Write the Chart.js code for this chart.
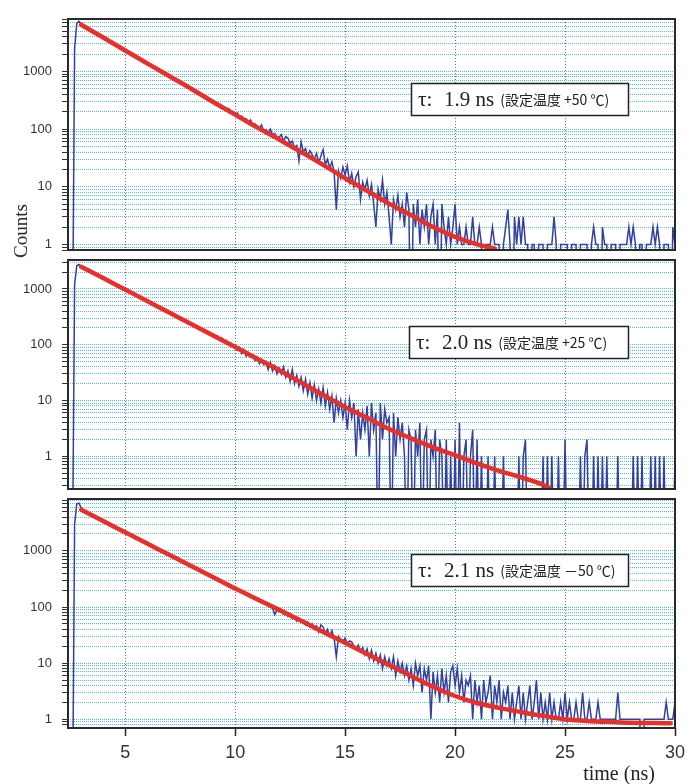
<!DOCTYPE html>
<html><head><meta charset="utf-8">
<script src="https://cdn.jsdelivr.net/npm/chart.js@4.4.1/dist/chart.umd.min.js"></script>
<style>
html,body{margin:0;padding:0;background:#fff;}
#wrap{position:relative;width:695px;height:784px;overflow:hidden;background:#fff;}
canvas{position:absolute;left:0;}
.lbl{position:absolute;font-family:"Liberation Serif","DejaVu Serif",serif;color:#222;white-space:nowrap;}
#ylab{left:21px;top:231px;font-size:19px;transform:translate(-50%,-50%) rotate(-90deg);}
#xlab{left:619px;top:773px;font-size:20px;transform:translate(-50%,-50%);}
</style></head><body>
<div id="wrap">
<canvas id="c1" width="695" height="253" style="top:0px"></canvas>
<canvas id="c2" width="695" height="239" style="top:253px"></canvas>
<canvas id="c3" width="695" height="292" style="top:492px"></canvas>
<div class="lbl" id="ylab">Counts</div>
<div class="lbl" id="xlab">time (ns)</div>
</div>
<script>
// ---- time base (ns) ----
const TIME = [
 2.5,2.6,2.7,2.8,2.9,
 3.0,3.1,3.2,3.3,3.4,3.5,3.6,3.7,3.8,3.9,
 4.0,4.1,4.2,4.3,4.4,4.5,4.6,4.7,4.8,4.9,
 5.0,5.1,5.2,5.3,5.4,5.5,5.6,5.7,5.8,5.9,
 6.0,6.1,6.2,6.3,6.4,6.5,6.6,6.7,6.8,6.9,
 7.0,7.1,7.2,7.3,7.4,7.5,7.6,7.7,7.8,7.9,
 8.0,8.1,8.2,8.3,8.4,8.5,8.6,8.7,8.8,8.9,
 9.0,9.1,9.2,9.3,9.4,9.5,9.6,9.7,9.8,9.9,
 10.0,10.1,10.2,10.3,10.4,10.5,10.6,10.7,10.8,10.9,
 11.0,11.1,11.2,11.3,11.4,11.5,11.6,11.7,11.8,11.9,
 12.0,12.1,12.2,12.3,12.4,12.5,12.6,12.7,12.8,12.9,
 13.0,13.1,13.2,13.3,13.4,13.5,13.6,13.7,13.8,13.9,
 14.0,14.1,14.2,14.3,14.4,14.5,14.6,14.7,14.8,14.9,
 15.0,15.1,15.2,15.3,15.4,15.5,15.6,15.7,15.8,15.9,
 16.0,16.1,16.2,16.3,16.4,16.5,16.6,16.7,16.8,16.9,
 17.0,17.1,17.2,17.3,17.4,17.5,17.6,17.7,17.8,17.9,
 18.0,18.1,18.2,18.3,18.4,18.5,18.6,18.7,18.8,18.9,
 19.0,19.1,19.2,19.3,19.4,19.5,19.6,19.7,19.8,19.9,
 20.0,20.1,20.2,20.3,20.4,20.5,20.6,20.7,20.8,20.9,
 21.0,21.1,21.2,21.3,21.4,21.5,21.6,21.7,21.8,21.9,
 22.0,22.1,22.2,22.3,22.4,22.5,22.6,22.7,22.8,22.9,
 23.0,23.1,23.2,23.3,23.4,23.5,23.6,23.7,23.8,23.9,
 24.0,24.1,24.2,24.3,24.4,24.5,24.6,24.7,24.8,24.9,
 25.0,25.1,25.2,25.3,25.4,25.5,25.6,25.7,25.8,25.9,
 26.0,26.1,26.2,26.3,26.4,26.5,26.6,26.7,26.8,26.9,
 27.0,27.1,27.2,27.3,27.4,27.5,27.6,27.7,27.8,27.9,
 28.0,28.1,28.2,28.3,28.4,28.5,28.6,28.7,28.8,28.9,
 29.0,29.1,29.2,29.3,29.4,29.5,29.6,29.7,29.8,29.9,
 30.0
];

// ---- measured counts, +50 ℃ ----
const COUNTS_P50 = [
 0,0,2500,6800,7400,
 6700,6200,5950,5600,5350,5100,4800,4600,4350,4150,
 3900,3720,3530,3350,3190,3020,2880,2730,2600,2470,
 2340,2230,2120,2010,1910,1820,1730,1640,1560,1480,
 1400,1340,1270,1200,1150,1090,1030,985,930,890,
 840,800,765,720,690,655,625,585,570,525,
 510,480,462,432,418,388,378,348,340,312,
 300,288,262,268,240,236,212,228,196,200,
 176,190,160,168,146,150,128,144,118,124,
 110,104,118,92,98,86,100,80,84,70,
 72,80,62,74,70,56,62,48,52,28,
 60,40,46,34,42,36,30,38,26,34,
 44,24,30,21,27,18,4,19,14,22,
 16,23,12,17,10,15,18,6,12,9,
 13,7,11,5,2,9,6,13,5,8,
 3,1,6,4,7,3,5,2,8,4,
 0,5,2,6,1,4,2,5,1,3,
 5,1,4,0,5,2,1,3,1,2,
 5,1,2,1,1,2,1,1,3,1,
 1,2,1,0,1,1,1,2,1,1,
 1,0,1,2,4,1,0,3,1,3,
 1,3,1,1,0,1,1,0,1,1,
 1,0,1,1,1,3,1,0,1,1,
 1,1,0,1,1,1,0,1,1,1,
 1,0,1,2,1,1,0,2,1,1,
 0,1,1,1,0,1,1,1,1,2,
 1,2,1,0,1,1,0,1,1,1,
 2,1,2,1,0,1,1,1,0,2,
 1
];

// ---- measured counts, +25 ℃ ----
const COUNTS_P25 = [
 0,0,1200,2600,2750,
 2550,2390,2280,2170,2070,1980,1890,1800,1720,1640,
 1565,1490,1420,1360,1295,1235,1180,1125,1070,1020,
 975,930,888,847,808,770,735,701,668,637,
 607,580,553,527,503,480,457,436,416,397,
 378,361,344,328,313,304,280,276,255,250,
 232,228,208,210,190,190,170,176,156,158,
 150,138,144,124,132,112,120,100,108,92,
 96,80,90,70,82,62,72,60,66,52,
 60,46,54,44,50,36,48,34,42,30,
 38,30,40,26,34,22,36,20,28,18,
 26,15,24,13,21,11,19,10,16,9,
 17,8,14,7,12,4,11,6,10,5,
 9,3,10,5,9,1,7,2,6,3,
 8,1,9,3,6,0,9,2,7,4,
 5,0,6,1,5,2,4,1,0,3,
 2,0,3,1,4,0,2,3,0,2,
 1,3,0,2,1,0,2,0,1,0,
 2,0,4,0,1,2,0,1,3,0,
 2,0,1,0,0,1,0,0,1,0,
 0,0,1,0,0,0,0,0,0,1,
 0,1,2,0,0,0,0,0,0,0,
 1,0,1,0,1,0,0,1,0,0,
 2,0,0,0,0,0,0,1,0,1,
 2,0,0,1,0,1,0,1,0,1,
 0,0,0,0,1,0,0,0,0,0,
 0,1,0,1,0,1,0,0,0,1,
 0,1,0,1,0,1,0,0,0,0,
 1
];

// ---- measured counts, -50 ℃ ----
const COUNTS_M50 = [
 0,0,3000,6900,7100,
 5800,5250,4950,4760,4520,4330,4120,3950,3760,3600,
 3420,3280,3120,2990,2850,2730,2600,2490,2370,2270,
 2150,2060,1960,1880,1790,1710,1630,1560,1490,1420,
 1360,1300,1240,1180,1130,1080,1030,985,940,895,
 855,820,780,745,712,680,650,620,592,565,
 548,508,500,458,456,418,415,381,380,346,
 345,318,314,290,286,266,262,242,239,220,
 216,204,198,186,180,170,164,154,150,140,
 136,130,124,118,114,106,102,96,73,88,
 90,82,74,78,68,72,62,66,56,62,
 54,58,48,54,44,50,40,46,36,48,
 44,34,40,30,38,28,13,30,26,24,
 28,22,25,24,20,18,21,16,19,14,
 18,12,17,11,15,10,14,8,13,9,
 12,8,13,6,11,7,10,6,9,5,
 8,4,10,6,9,3,8,5,9,1,
 7,3,6,2,8,3,6,2,7,9,
 4,8,3,6,2,5,4,6,1,5,
 2,4,1,5,2,3,6,1,4,2,
 5,1,3,2,4,1,3,1,2,4,
 1,3,1,2,4,1,2,5,1,3,
 1,2,1,3,1,2,1,1,2,1,
 3,1,2,1,1,2,1,1,3,1,
 1,2,1,1,1,2,1,1,1,1,
 1,1,1,1,3,1,1,1,1,1,
 1,1,1,1,1,0,1,1,1,1,
 1,1,1,1,1,1,2,1,1,1,
 2
];

// ---- single-exponential fit curves ----
const FIT_T_P50 = [3,4,5,6,7,8,9,10,11,12,13,14,15,16,17,18,19,20,21,21.8];
const FIT_P50   = [6450,3870,2300,1380,830,500,295,178,107,66,40,24,14,8.5,5.1,3.2,2.0,1.35,1.0,0.85];
const FIT_T_P25 = [3,4,5,6,7,8,9,10,11,12,13,14,15,16,17,18,19,20,21,22,23,24,24.3];
const FIT_P25   = [2500,1565,975,607,378,235,147,91,56,35,21,12.6,7.7,4.9,3.1,2.1,1.45,1.05,0.75,0.55,0.42,0.31,0.27];
const FIT_T_M50 = [3,4,5,6,7,8,9,10,11,12,13,14,15,16,17,18,19,20,21,22,23,24,25,26,27,28,29,29.8];
const FIT_M50   = [5400,3390,2140,1350,851,537,339,213,138,89,57,36,23,14.5,9.3,5.9,3.8,2.6,1.95,1.6,1.35,1.15,1.0,0.93,0.9,0.87,0.86,0.85];

// ---- labels ----
const TAU_LABELS  = ['1.9', '2.0', '2.1'];
const COND_LABELS = ['(設定温度 +50 ℃)', '(設定温度 +25 ℃)', '(設定温度 －50 ℃)'];
const X_TICKS = [5, 10, 15, 20, 25, 30];
const Y_LABEL_TICKS = [1, 10, 100, 1000];
const ZERO_FLOOR = 0.01; // zero counts cannot sit on a log axis: drawn below the axis floor (clipped)

function pts(xs, ys){ const n=Math.min(xs.length, ys.length); const o=[]; for(let i=0;i<n;i++) o.push({x:xs[i], y: ys[i] > 0 ? ys[i] : ZERO_FLOOR}); return o; }
function logTicks(min, max){
  const out=[]; const e0=Math.floor(Math.log10(min)), e1=Math.ceil(Math.log10(max));
  for(let e=e0;e<=e1;e++) for(let m=1;m<=9;m++){ const v=+(m*Math.pow(10,e)).toPrecision(6); if(v>=min && v<=max) out.push(v); }
  return out;
}
function isLabelled(v){ return Y_LABEL_TICKS.some(t => Math.abs(t - v) < 1e-6); }

const framePlugin = {
  id:'frame',
  afterDraw(chart){
    const {ctx, chartArea:a} = chart;
    ctx.save(); ctx.strokeStyle='#2a2a2a'; ctx.lineWidth=2;
    ctx.strokeRect(a.left, a.top, a.right-a.left, a.bottom-a.top); ctx.restore();
  }
};
const boxPlugin = {
  id:'tauBox',
  afterDatasetsDraw(chart, args, o){
    if(!o || !o.tau) return;
    const ctx=chart.ctx, xs=chart.scales.x, ys=chart.scales.y;
    const px=Math.round(xs.getPixelForValue(o.x)), py=Math.round(ys.getPixelForValue(o.y));
    const w=o.w, h=32;
    ctx.save();
    ctx.fillStyle='#fff'; ctx.fillRect(px, py-h/2, w, h);
    ctx.strokeStyle='#222'; ctx.lineWidth=1.5; ctx.strokeRect(px+0.5, py-h/2+0.5, w, h);
    ctx.fillStyle='#222'; ctx.textBaseline='middle'; ctx.textAlign='left';
    ctx.font='21px "Liberation Serif", "DejaVu Serif", serif';
    ctx.fillText('τ:', px+7, py+1);
    const t1=o.tau+' ns';
    ctx.fillText(t1, px+33, py+1);
    const w1=ctx.measureText(t1).width;
    ctx.font='14px "Noto Sans CJK JP", sans-serif';
    ctx.fillText(o.cond, px+33+w1+6, py+1);
    ctx.restore();
  }
};

function makeChart(id, counts, fitT, fitV, ymin, ymax, padTop, padBottom, bottom, box){
  return new Chart(document.getElementById(id), {
    type:'line',
    data:{ datasets:[
      { data: pts(fitT, fitV), borderColor:'#e8302a', borderWidth:4.5, pointRadius:0, cubicInterpolationMode:'monotone', borderCapStyle:'round', borderJoinStyle:'round', order:0 },
      { data: pts(TIME, counts), borderColor:'#3340a0', borderWidth:1.5, pointRadius:0, tension:0, order:1 }
    ]},
    options:{
      responsive:false, animation:false, devicePixelRatio:1,
      layout:{ padding:{ left:8, right:20, top:padTop, bottom:padBottom } },
      plugins:{ legend:{display:false}, tooltip:{enabled:false}, tauBox: box },
      scales:{
        x:{ type:'linear', min:2.4, max:30,
          afterBuildTicks: s => { s.ticks = X_TICKS.map(v=>({value:v})); },
          ticks:{ display:bottom, autoSkip:false, maxRotation:0, color:'#333', padding:6,
                  font:{ family:'"Liberation Sans", Arial, sans-serif', size:18 } },
          grid:{ color: c => (c.tick && c.tick.value===30) ? 'rgba(0,0,0,0)' : '#6e64c4', lineWidth:1,
                 drawTicks:bottom, tickLength:8, tickColor:'#222', tickWidth:1.5, tickBorderDash:[] },
          border:{ display:false, dash:[1,2] },
          afterFit: s => { s.height = bottom ? 56 : 0; s.paddingLeft = 0; s.paddingRight = 0; }
        },
        y:{ type:'logarithmic', min:ymin, max:ymax,
          afterBuildTicks: s => { s.ticks = logTicks(ymin, ymax).map(v=>({value:v, major:isLabelled(v)})); },
          ticks:{ autoSkip:false, color:'#333', padding:10,
                  font:{ family:'"Liberation Sans", Arial, sans-serif', size:13 },
                  callback: v => isLabelled(v) ? String(Math.round(v)) : '' },
          grid:{ color:'#55c2e0', lineWidth:1, drawTicks:true, tickLength:6, tickColor:'#333', tickWidth:1, tickBorderDash:[] },
          border:{ display:false, dash:[1,1] },
          afterFit: s => { s.width = 60; s.paddingTop = 0; s.paddingBottom = 0; }
        }
      }
    },
    plugins:[boxPlugin, framePlugin]
  });
}

makeChart('c1', COUNTS_P50, FIT_T_P50, FIT_P50, 0.8, 8100, 19, 3, false, {x:18.0, y:335, w:217, tau:TAU_LABELS[0], cond:COND_LABELS[0]});
makeChart('c2', COUNTS_P25, FIT_T_P25, FIT_P25, 0.26, 3300, 7, 3, false, {x:17.9, y:112, w:219, tau:TAU_LABELS[1], cond:COND_LABELS[1]});
makeChart('c3', COUNTS_M50, FIT_T_M50, FIT_M50, 0.72, 8400, 7, 0, true, {x:18.0, y:460, w:217, tau:TAU_LABELS[2], cond:COND_LABELS[2]});
</script>
</body></html>
